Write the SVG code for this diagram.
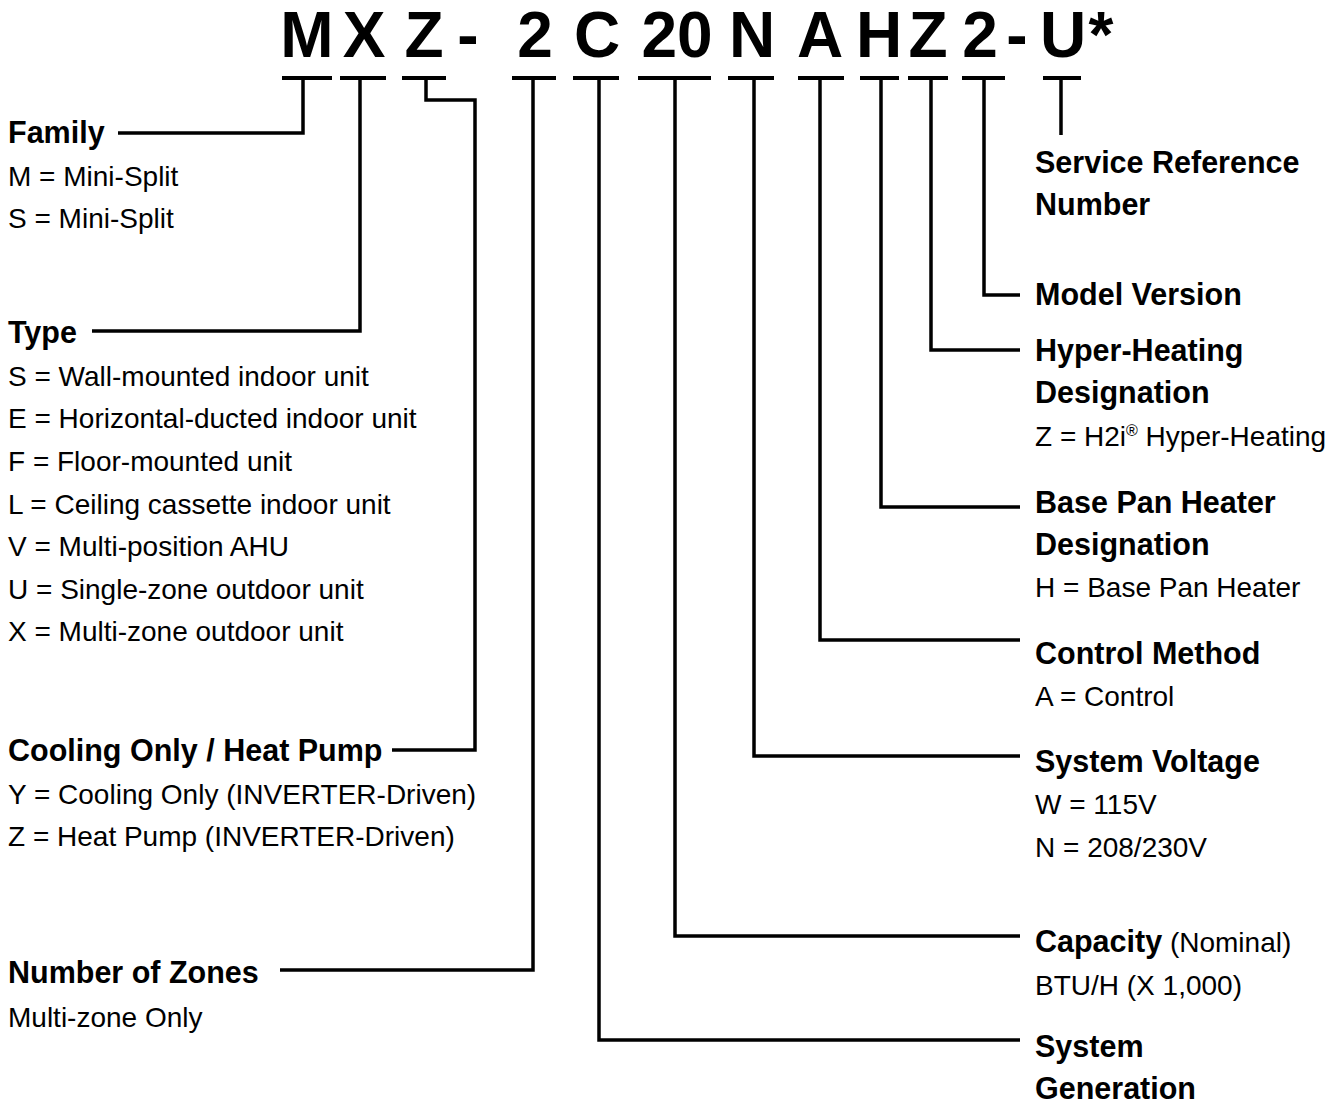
<svg xmlns="http://www.w3.org/2000/svg" width="1332" height="1107" viewBox="0 0 1332 1107">
<style>
.big{font-family:"Liberation Sans",Arial,sans-serif;font-weight:bold;font-size:64px;fill:#000;text-anchor:middle}
.h{font-family:"Liberation Sans",Arial,sans-serif;font-weight:bold;font-size:30.5px;fill:#000}
.t{font-family:"Liberation Sans",Arial,sans-serif;font-size:28px;fill:#000}
.ln{fill:none;stroke:#000;stroke-width:3.5;stroke-linecap:butt;stroke-linejoin:miter}
.bar{fill:none;stroke:#000;stroke-width:4}
</style>
<rect width="1332" height="1107" fill="#fff"/>
<g id="model-code">
<text class="big" x="307" y="57">M</text>
<text class="big" x="364" y="57">X</text>
<text class="big" x="424" y="57">Z</text>
<text class="big" x="468" y="57">-</text>
<text class="big" x="535" y="57">2</text>
<text class="big" x="597" y="57">C</text>
<text class="big" x="677" y="57">20</text>
<text class="big" x="752" y="57">N</text>
<text class="big" x="820" y="57">A</text>
<text class="big" x="879" y="57">H</text>
<text class="big" x="928" y="57">Z</text>
<text class="big" x="980" y="57">2</text>
<text class="big" x="1017" y="57">-</text>
<text class="big" x="1063" y="57">U</text>
<text class="big" x="1101" y="57">*</text>
</g>
<g id="connectors">
<path class="bar" d="M282 78H332 M340 78H386 M402 78H446 M512 78H556 M573 78H619 M638 78H711 M728 78H774 M798 78H844 M860 78H899 M908 78H948 M962 78H1005 M1043 78H1081"/>
<path class="ln" d="M303 78V133H118"/>
<path class="ln" d="M360 78V331H92"/>
<path class="ln" d="M426 78V100H475V750H392"/>
<path class="ln" d="M533 78V970H280"/>
<path class="ln" d="M599 78V1040H1020"/>
<path class="ln" d="M675 78V936H1020"/>
<path class="ln" d="M754 78V756H1020"/>
<path class="ln" d="M820 78V640H1020"/>
<path class="ln" d="M881 78V507H1020"/>
<path class="ln" d="M931 78V350H1020"/>
<path class="ln" d="M984 78V295H1020"/>
<path class="ln" d="M1061 78V135"/>
</g>
<g id="family">
<text class="h" x="8" y="143">Family</text>
<text class="t" x="8" y="186">M = Mini-Split</text>
<text class="t" x="8" y="228">S = Mini-Split</text>
</g>
<g id="type">
<text class="h" x="8" y="343">Type</text>
<text class="t" x="8" y="386">S = Wall-mounted indoor unit</text>
<text class="t" x="8" y="428">E = Horizontal-ducted indoor unit</text>
<text class="t" x="8" y="471">F = Floor-mounted unit</text>
<text class="t" x="8" y="514">L = Ceiling cassette indoor unit</text>
<text class="t" x="8" y="556">V = Multi-position AHU</text>
<text class="t" x="8" y="599">U = Single-zone outdoor unit</text>
<text class="t" x="8" y="641">X = Multi-zone outdoor unit</text>
</g>
<g id="cooling">
<text class="h" x="8" y="761">Cooling Only / Heat Pump</text>
<text class="t" x="8" y="804">Y = Cooling Only (INVERTER-Driven)</text>
<text class="t" x="8" y="846">Z = Heat Pump (INVERTER-Driven)</text>
</g>
<g id="zones">
<text class="h" x="8" y="983">Number of Zones</text>
<text class="t" x="8" y="1027">Multi-zone Only</text>
</g>
<g id="service">
<text class="h" x="1035" y="173">Service Reference</text>
<text class="h" x="1035" y="215">Number</text>
</g>
<g id="model-version">
<text class="h" x="1035" y="305">Model Version</text>
</g>
<g id="hyper">
<text class="h" x="1035" y="361">Hyper-Heating</text>
<text class="h" x="1035" y="403">Designation</text>
<text class="t" x="1035" y="446">Z = H2i<tspan font-size="16" dy="-10">®</tspan><tspan dy="10"> Hyper-Heating</tspan></text>
</g>
<g id="basepan">
<text class="h" x="1035" y="513">Base Pan Heater</text>
<text class="h" x="1035" y="555">Designation</text>
<text class="t" x="1035" y="597">H = Base Pan Heater</text>
</g>
<g id="control">
<text class="h" x="1035" y="664">Control Method</text>
<text class="t" x="1035" y="706">A = Control</text>
</g>
<g id="voltage">
<text class="h" x="1035" y="772">System Voltage</text>
<text class="t" x="1035" y="814">W = 115V</text>
<text class="t" x="1035" y="857">N = 208/230V</text>
</g>
<g id="capacity">
<text class="h" x="1035" y="952">Capacity<tspan font-weight="normal" font-size="28"> (Nominal)</tspan></text>
<text class="t" x="1035" y="995">BTU/H (X 1,000)</text>
</g>
<g id="generation">
<text class="h" x="1035" y="1057">System</text>
<text class="h" x="1035" y="1099">Generation</text>
</g>
</svg>
